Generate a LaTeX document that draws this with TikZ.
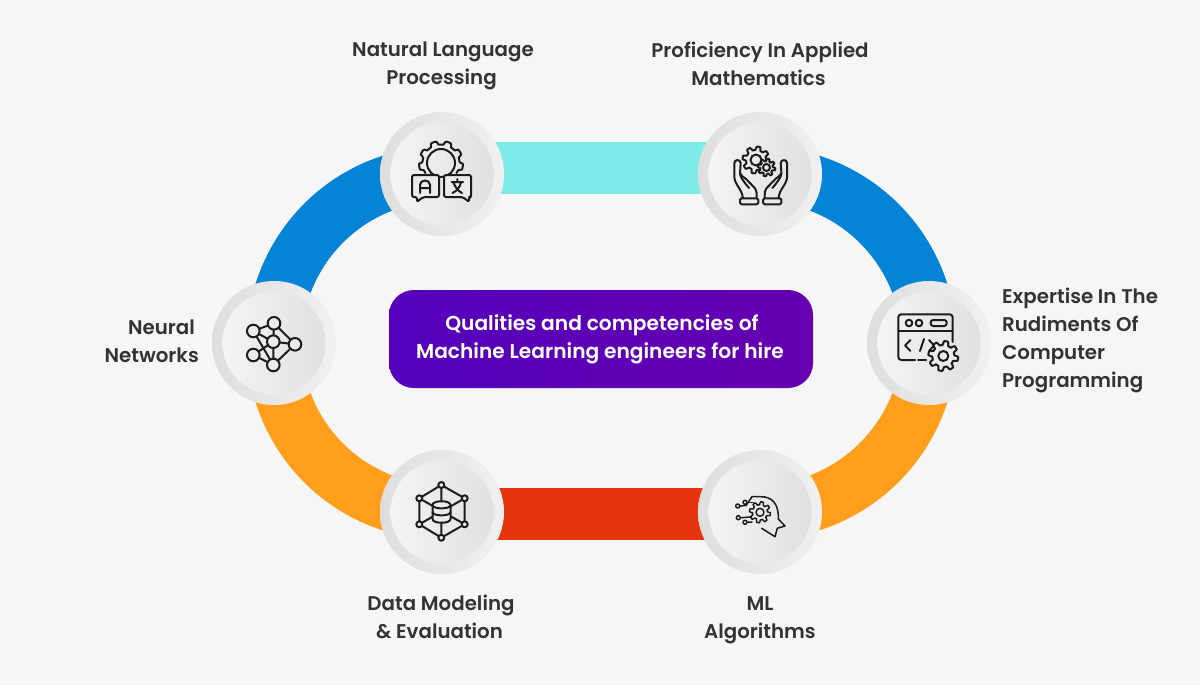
\documentclass[tikz,border=0pt]{standalone}
\usepackage{fontspec}
\setmainfont{Poppins}[UprightFont=* SemiBold,BoldFont=* SemiBold]
\usetikzlibrary{backgrounds}
\definecolor{pagebg}{HTML}{F6F6F6}
\definecolor{tealband}{HTML}{7EEBE8}
\definecolor{blueband}{HTML}{0583D6}
\definecolor{orangeband}{HTML}{FF9F1C}
\definecolor{redband}{HTML}{E5350D}
\definecolor{inkc}{HTML}{1C1C1C}
\definecolor{labelc}{HTML}{333333}
\definecolor{iconfill}{HTML}{EBEBEB}
\definecolor{purpleA}{HTML}{5400BC}
\definecolor{purpleB}{HTML}{6600B0}
\definecolor{ringA}{HTML}{DEDEDE}
\definecolor{ringB}{HTML}{F0F0F0}
\definecolor{coreA}{HTML}{F4F4F4}
\definecolor{coreB}{HTML}{E0E0E0}
\tikzset{
  band/.style={line width=52pt,line cap=butt},
  archband/.style={line width=55pt,line cap=butt},
  ringout/.style={circle,inner sep=0pt,minimum size=124pt,shade,shading angle=45,left color=ringA,right color=ringB},
  ringin/.style={circle,inner sep=0pt,minimum size=103pt,shade,shading angle=45,left color=coreA,right color=coreB},
  lab/.style={font=\fontsize{19.8}{28}\selectfont,text=labelc,inner sep=0pt},
  icon/.style={draw=inkc,line width=2pt,line join=round,line cap=round},
}
\newcommand{\gearicon}[6]{%
  \draw[icon,fill=iconfill] plot[domain=0:360,samples=97,variable=\t]
   ({#1+(#4+(#3-#4)*min(1,max(0,0.5+1.6*sin(#5*\t))))*cos(\t)},
    {#2+(#4+(#3-#4)*min(1,max(0,0.5+1.6*sin(#5*\t))))*sin(\t)}) -- cycle;
  \draw[icon] (#1,#2) circle[radius=#6];
}
\newcommand{\badge}[3]{%
  \node[ringout] (#1) at (#2,#3) {};
  \node[ringin] (#1in) at (#1.center) {};
}
\newcommand{\handicon}{%
  \draw[icon] (-17.3,23.7) .. controls (-17.5,16) and (-25.7,10) .. (-25.7,2.7) -- (-25.7,-10.7)
     .. controls (-25.7,-15) and (-19.3,-15) .. (-19.3,-10.7) -- (-20,-0.7)
     .. controls (-19,2) and (-16,3) .. (-14,5) -- (-5,14.3) .. controls (-3.5,16) and (-3.3,18) .. (-3.3,23.7);
  \draw[icon] (-20,-0.7) .. controls (-20,3) and (-16,8) .. (-11,14);
  \draw[icon,rounded corners=1.5pt] (-20,24.3) rectangle (-1.7,30.3);
}
\begin{document}
\begin{tikzpicture}[x=1pt,y=-1pt]
\useasboundingbox (0,0) rectangle (1200,685);

\badge{nlp}{442}{174}
\badge{prof}{760}{174}
\badge{prog}{929}{343}
\badge{neural}{274}{343}
\badge{data}{442}{512}
\badge{algo}{760}{512}

\begin{pgfonlayer}{background}
\fill[pagebg] (0,0) rectangle (1200,685);
\draw[band,tealband] ([yshift=6pt]nlp.center) -- ([yshift=6pt]prof.center);
\draw[band,redband] ([yshift=-1.5pt]data.center) -- ([yshift=-1.5pt]algo.center);
\draw[archband,blueband] (neural.center) .. controls +(0,-93) and +(-93,0) .. (nlp.center);
\draw[archband,blueband] (prof.center) .. controls +(93,0) and +(0,-93) .. (prog.center);
\draw[archband,orangeband] (neural.center) .. controls +(0,93) and +(-93,0) .. (data.center);
\draw[archband,orangeband] (algo.center) .. controls +(93,0) and +(0,93) .. (prog.center);
\end{pgfonlayer}

\node[rounded corners=25pt,minimum width=424pt,minimum height=98pt,inner sep=0pt,
  shade,left color=purpleA,right color=purpleB,
  font=\fontsize{20.2}{28}\selectfont\bfseries,text=white,align=center] (title) at (601,339)
  {\hspace*{2pt}Qualities and competencies of\\Machine Learning engineers for hire\hspace*{2pt}};

\node[lab,align=center] (lnlp) at (443,66) {Natural Language\\Processing\hspace*{3pt}};
\node[lab,align=center] (lprof) at (760,64) {Proficiency In Applied\\Mathematics\hspace*{3pt}};
\node[lab,align=right,anchor=east] (lneural) at (199,341) {Neural\hspace*{4pt}\\Networks};
\node[lab,align=left,anchor=west] (lprog) at (1002,340) {Expertise In The\\Rudiments Of\\Computer\\Programming};
\node[lab,align=center] (ldata) at (441,617) {Data Modeling\\\& Evaluation\hspace*{3pt}};
\node[lab,align=center] (lalgo) at (760,620) {ML\\Algorithms};

% language icon
\begin{scope}[shift={(nlp.center)}]
  \draw[icon] plot[domain=147:393,samples=80,variable=\t]
   ({-1+(18.5+3.5*min(1,max(0,0.5+1.6*sin(9*\t))))*cos(\t)},
    {-11+(18.5+3.5*min(1,max(0,0.5+1.6*sin(9*\t))))*sin(\t)});
  \draw[icon] (-1,-11) circle[radius=14];
  \draw[icon,fill=iconfill,rounded corners=2pt] (-30,1) -- (-3,1) -- (-3,23) -- (-19,23) -- (-25,28) -- (-25,23) -- (-30,23) -- cycle;
  \draw[icon,fill=iconfill,rounded corners=2pt] (2,1) -- (29,1) -- (29,23) -- (27,23) -- (27,28) -- (21,23) -- (2,23) -- cycle;
  \draw[icon] (-22,19) -- (-22,11) .. controls (-22,5) and (-12,5) .. (-12,11) -- (-12,19) (-22,14) -- (-12,14);
  \draw[icon] (15.3,5) -- (15.3,8) (9.5,8) -- (21,8) (11.5,8.5) .. controls (13,13) and (16,17) .. (20,19) (19,8.5) .. controls (18,13) and (15,17) .. (10.5,19);
\end{scope}

% hands icon
\begin{scope}[shift={(prof.center)}]
  \gearicon{-4}{-14}{13.5}{10}{8}{5.5}
  \gearicon{6.5}{-6.5}{8.8}{6.3}{8}{3.5}
  \handicon
  \begin{scope}[xshift=1.4pt,xscale=-1]\handicon\end{scope}
\end{scope}

% code window icon
\begin{scope}[shift={(prog.center)}]
  \draw[icon,rounded corners=3pt] (23.7,-1) -- (23.7,-28.7) -- (-30.7,-28.7) -- (-30.7,17) -- (-14,17);
  \draw[icon] (-11,17) -- (-3,17);
  \draw[icon] (-30.7,-12) -- (23.7,-12);
  \draw[icon] (-20,-20) circle[radius=3.3] (-10,-20) circle[radius=3.3];
  \draw[icon,rounded corners=2.5pt] (1.7,-23) rectangle (17.7,-17);
  \draw[icon] (-18.5,-3) -- (-24,2.5) -- (-18.5,8) (-9,8) -- (-5,-4) (0,-3) -- (5,2.5) -- (0,8);
  \gearicon{14.3}{13}{15}{11}{8}{5}
\end{scope}

% neural network icon
\begin{scope}[shift={(neural.center)}]
  \draw[icon] (-20.7,-12) -- (0,-19.7) -- (-0.7,-1.3) -- (21,1.3) -- (0,-19.7)
     (-20.7,-12) -- (-0.7,22) -- (21,1.3)
     (-20.7,12) -- (-0.7,22) -- (-0.7,-1.3) -- (-20.7,12)
     (-20.7,-12) -- (-0.7,-1.3);
  \foreach \px/\py in {-20.7/-12,0/-19.7,-0.7/-1.3,21/1.3,-20.7/12,-0.7/22}
    \draw[icon,fill=iconfill] (\px,\py) circle[radius=6.3];
\end{scope}

% data model icon
\begin{scope}[shift={(data.center)}]
  \draw[icon] (-0.7,-27) -- (22.7,-13.7) -- (22.7,12.3) -- (-0.7,25.7) -- (-22.7,12.3) -- (-22.7,-13.7) -- cycle;
  \draw[icon] (-0.7,-27) -- (-0.7,25.7) (-22.7,-13.7) -- (22.7,12.3) (22.7,-13.7) -- (-22.7,12.3);
  \draw[icon,fill=iconfill] (-9.5,-7) -- (-9.5,7) .. controls (-9.5,12) and (8.5,12) .. (8.5,7) -- (8.5,-7) .. controls (8.5,-12) and (-9.5,-12) .. (-9.5,-7) .. controls (-9.5,-2.5) and (8.5,-2.5) .. (8.5,-7);
  \draw[icon] (-9.5,0) .. controls (-9.5,4.5) and (8.5,4.5) .. (8.5,0);
  \foreach \px/\py in {-0.7/-27,22.7/-13.7,22.7/12.3,-0.7/25.7,-22.7/12.3,-22.7/-13.7}
    \draw[icon,fill=iconfill] (\px,\py) circle[radius=3];
\end{scope}

% AI head icon
\begin{scope}[shift={(algo.center)},icon/.append style={line width=1.5pt}]
  \draw[icon] (1.7,16.3) -- (15,24.7) -- (17.3,16.3) -- (25,14) -- (18.3,7) .. controls (19,-8) and (12,-15.5) .. (0.7,-15.3) -- (-8,-15.3) -- (-14,-6.5) -- (-20,-6);
  \draw[icon] (-13,-9.7) -- (-7,-9.7);
  \draw[icon] (-19,5.7) -- (-10,5) (-13,10.3) -- (-8,10);
  \draw[icon,fill=iconfill] (-22.3,-6) circle[radius=2] (-15,-9.7) circle[radius=2] (-21.7,5.7) circle[radius=2] (-15,10.3) circle[radius=2];
  \gearicon{0}{0.3}{10.5}{7.5}{8}{4}
\end{scope}
\end{tikzpicture}
\end{document}
